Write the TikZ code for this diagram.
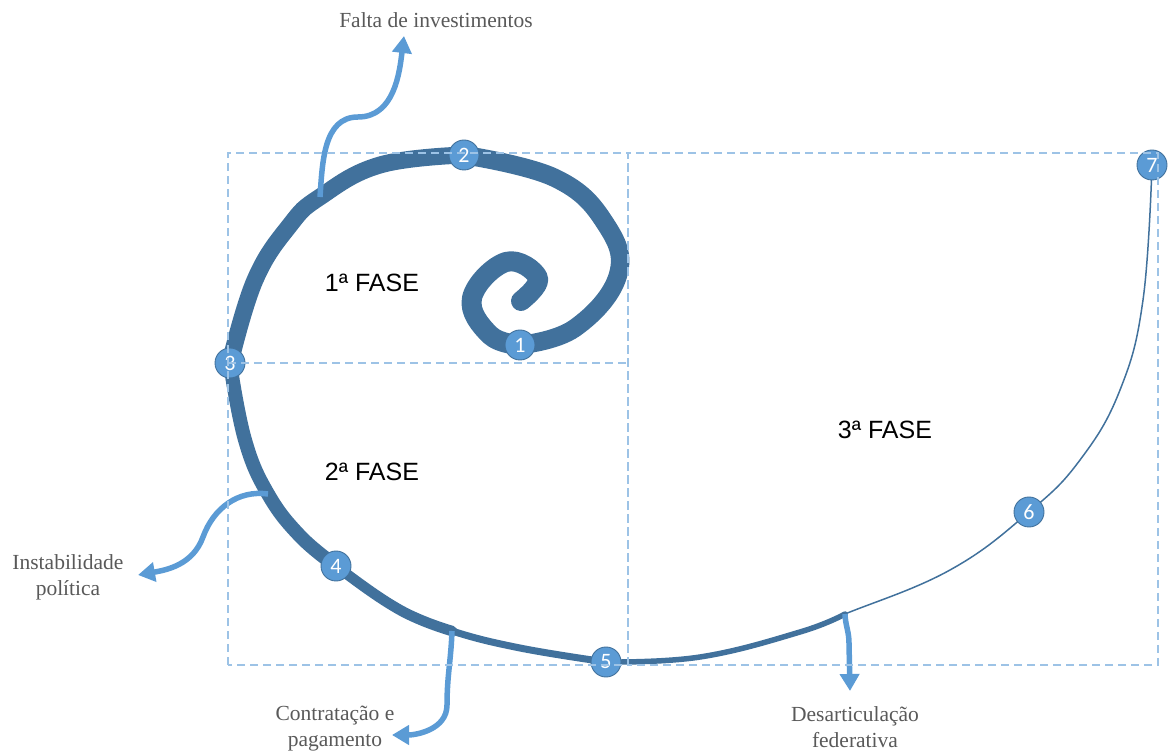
\documentclass[tikz,border=0pt]{standalone}
\usepackage{fontspec}
\setmainfont{Liberation Serif}
\newfontfamily\calibrifont{Carlito}
\newfontfamily\arialfont{Liberation Sans}
\usepackage{tikz}
\usetikzlibrary{arrows.meta}
\definecolor{spiralblue}{RGB}{65,113,156}
\definecolor{arrowblue}{RGB}{91,155,213}
\definecolor{boxblue}{RGB}{157,195,230}
\definecolor{labelgray}{RGB}{89,89,89}
\newcommand{\markersize}{30pt}
\tikzset{
    spiral/.style={draw=spiralblue, line cap=round, line join=round},
    marker/.style={circle, fill=arrowblue, draw=spiralblue, line width=0.9pt, minimum size=\markersize, inner sep=0pt, text=white, font=\calibrifont\fontsize{22}{22}\selectfont},
    phase/.style={font=\arialfont\fontsize{25}{30}\selectfont},
    cause/.style={text=labelgray, align=center, font=\fontsize{21.5}{26}\selectfont},
    effect/.style={draw=arrowblue, line width=5.5pt, -{Triangle[length=17pt,width=19pt]}},
    phasebox/.style={draw=boxblue, line width=1.2pt, dash pattern=on 8pt off 5pt}
}

\begin{document}
\begin{tikzpicture}[x=1pt, y=1pt]
    \useasboundingbox (0,0) rectangle (1168,753);

    \coordinate (P1) at (520,408);
    \coordinate (P2) at (464,598);
    \coordinate (P3) at (230,390);
    \coordinate (P4) at (336,187);
    \coordinate (P5) at (606,91);
    \coordinate (P6) at (1029,241);
    \coordinate (P7) at (1152,588);
    \coordinate (F0) at (320,556);
    \coordinate (I0) at (268,259);
    \coordinate (C0) at (452,122);
    \coordinate (D0) at (845,139);

    \draw[spiral, line width=20pt] plot[smooth, tension=0.7] coordinates {(521,452) (538,475) (506,491) (472,455) (490,418) (P1)};
    \draw[spiral, line width=18.5pt] plot[smooth, tension=0.7] coordinates {(P1) (575,425) (618,478) (605,530) (555,575) (P2)};
    \draw[spiral, line width=17pt] plot[smooth, tension=0.7] coordinates {(P2) (380,588) (F0) (290,528) (255,473) (P3)};
    \draw[spiral, line width=14pt] plot[smooth, tension=0.7] coordinates {(P3) (245,313) (I0) (300,217) (P4)};
    \draw[spiral, line width=10.5pt] plot[smooth, tension=0.7] coordinates {(I0) (300,217) (P4) (400,143) (C0)};
    \draw[spiral, line width=7pt] plot[smooth, tension=0.7] coordinates {(P4) (400,143) (C0) (520,105) (P5)};
    \draw[spiral, line width=5.5pt] plot[smooth, tension=0.7] coordinates {(P5) (700,96) (800,121) (D0)};
    \draw[spiral, line width=1.5pt] plot[smooth, tension=0.7] coordinates {(800,121) (D0) (950,183) (P6) (1080,293) (1120,363) (1143,453) (P7)};

    \node[cause] (falta) at (436,733) {Falta de investimentos};
    \node[cause] (instab) at (68,176) {Instabilidade\\política};
    \node[cause] (contrat) at (335,24) {Contratação e\\pagamento};
    \node[cause] (desart) at (855,26) {Desarticulação\\federativa};

    \coordinate (falta-tip) at (404,717);
    \coordinate (instab-tip) at (138,178);
    \coordinate (contrat-tip) at (392,18);
    \coordinate (desart-tip) at (850,62);

    \draw[effect] (F0) to[out=86, in=180] (358,636) to[out=0, in=-97] (falta-tip);
    \draw[effect] (I0) to[out=172, in=70] (203,216) to[out=-110, in=10] (instab-tip);
    \draw[effect] (C0) to[out=-92, in=90] (447,48) to[out=-90, in=0] (contrat-tip);
    \draw[effect] (D0) to[out=-88, in=90] (849,110) -- (desart-tip);

    \node[phase] (fase1) at (372,470) {1ª FASE};
    \node[phase] (fase2) at (372,281) {2ª FASE};
    \node[phase] (fase3) at (885,323) {3ª FASE};

    \foreach \n in {1,...,7}
        \node[marker] (m\n) at (P\n) {\n};

    \draw[phasebox] (228,88) rectangle (628,600);
    \draw[phasebox] (628,88) rectangle (1158,600);
    \draw[phasebox] (228,390) -- (628,390);
\end{tikzpicture}
\end{document}
